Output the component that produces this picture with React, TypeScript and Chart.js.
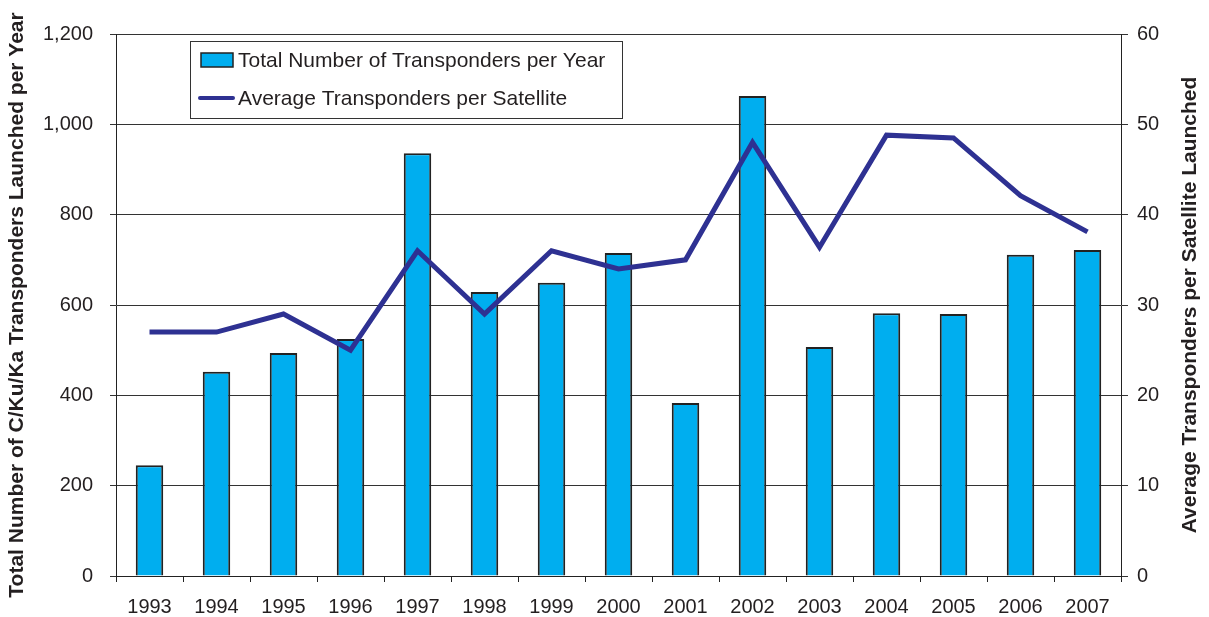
import React, { useEffect, useRef } from "react";
import { Chart, registerables } from "chart.js";

Chart.register(...registerables);

const years = ["1993","1994","1995","1996","1997","1998","1999","2000","2001","2002","2003","2004","2005","2006","2007"];
const totalTransponders = [245, 452, 494, 525, 936, 629, 649, 715, 383, 1063, 507, 582, 580, 711, 722];
const avgPerSatellite = [27, 27, 29, 25, 36, 29, 36, 34, 35, 48, 36.4, 48.8, 48.5, 42.1, 38.1];
const barLabel = "Total Number of Transponders per Year";
const lineLabel = "Average Transponders per Satellite";
const leftTitle = "Total Number of C/Ku/Ka Transponders Launched per Year";
const rightTitle = "Average Transponders per Satellite Launched";

const FONT = "'Liberation Sans', Arial, sans-serif";
const TEXT = "#231F20";
const BAR_FILL = "#00AEEF";
const LINE_COLOR = "#2E3192";

const legendPlugin = {
  id: "boxLegend",
  afterDraw(chart: any) {
    const ctx = chart.ctx;
    ctx.save();
    const x = 190, y = 41, w = 432, h = 77;
    ctx.fillStyle = "#fff";
    ctx.fillRect(x, y, w, h);
    ctx.strokeStyle = "#333";
    ctx.lineWidth = 1;
    ctx.strokeRect(x + 0.5, y + 0.5, w, h);
    // bar swatch
    ctx.fillStyle = BAR_FILL;
    ctx.fillRect(201, 53, 32, 14);
    ctx.strokeStyle = "#222";
    ctx.lineWidth = 1.5;
    ctx.strokeRect(201, 53, 32, 14);
    // line swatch
    ctx.strokeStyle = LINE_COLOR;
    ctx.lineWidth = 4;
    ctx.lineCap = "round";
    ctx.beginPath();
    ctx.moveTo(200, 98);
    ctx.lineTo(233, 98);
    ctx.stroke();
    ctx.fillStyle = TEXT;
    ctx.font = `21px ${FONT}`;
    ctx.textBaseline = "middle";
    ctx.textAlign = "left";
    ctx.fillText(barLabel, 238, 61);
    ctx.fillText(lineLabel, 238, 99);
    // right axis title, reading bottom-to-top
    const ya = chart.scales.y1;
    ctx.translate(1190, (ya.top + ya.bottom) / 2);
    ctx.rotate(-Math.PI / 2);
    ctx.font = `bold 21px ${FONT}`;
    ctx.textAlign = "center";
    ctx.fillText(rightTitle, 0, 0);
    ctx.restore();
  },
};

export default function App() {
  const ref = useRef<HTMLCanvasElement>(null);
  useEffect(() => {
    document.body.style.margin = "0";
    const chart = new Chart(ref.current!, {
      type: "bar",
      data: {
        labels: years,
        datasets: [
          {
            type: "line",
            label: lineLabel,
            data: avgPerSatellite,
            yAxisID: "y1",
            borderColor: LINE_COLOR,
            borderWidth: 5,
            pointRadius: 0,
            tension: 0,
            fill: false,
          } as any,
          {
            type: "bar",
            label: barLabel,
            data: totalTransponders,
            yAxisID: "y",
            backgroundColor: BAR_FILL,
            borderColor: "#222",
            borderWidth: 2,
            barPercentage: 0.41,
            categoryPercentage: 1,
          },
        ],
      },
      options: {
        animation: false,
        responsive: false,
        maintainAspectRatio: false,
        layout: { padding: { top: 34, left: 0, right: 0, bottom: 0 } },
        plugins: { legend: { display: false }, tooltip: { enabled: false } },
        scales: {
          x: {
            grid: {
              display: true,
              drawOnChartArea: false,
              drawTicks: true,
              tickLength: 6,
              color: "#222",
              offset: true,
            },
            border: { display: true, color: "#222", width: 1 },
            ticks: { color: TEXT, font: { family: FONT, size: 20 }, padding: 13, maxRotation: 0 },
            afterFit(s: any) { s.height = 41; },
          },
          y: {
            position: "left",
            min: 0,
            max: 1200,
            ticks: {
              stepSize: 200,
              color: TEXT,
              font: { family: FONT, size: 20 },
              padding: 17,
              callback: (v: any) => Number(v).toLocaleString("en-US"),
            },
            grid: { color: "#333", lineWidth: 1, tickLength: 6 },
            border: { display: true, color: "#222", width: 1 },
            title: {
              display: true,
              text: leftTitle,
              color: TEXT,
              font: { family: FONT, size: 21, weight: "bold" },
              padding: { top: 5, bottom: 0 },
            },
            afterFit(s: any) { s.width = 116; },
          },
          y1: {
            position: "right",
            min: 0,
            max: 60,
            ticks: { stepSize: 10, color: TEXT, font: { family: FONT, size: 20 }, padding: 9 },
            grid: { drawOnChartArea: false, color: "#333", tickLength: 7 },
            border: { display: true, color: "#222", width: 1 },
            afterFit(s: any) { s.width = 88; },
          },
        },
      },
      plugins: [legendPlugin],
    });
    return () => chart.destroy();
  }, []);
  return (
    <div style={{ position: "absolute", left: 0, top: 0, width: 1209, height: 617, background: "#fff" }}>
      <canvas ref={ref} width={1209} height={617} style={{ width: 1209, height: 617 }} />
    </div>
  );
}
